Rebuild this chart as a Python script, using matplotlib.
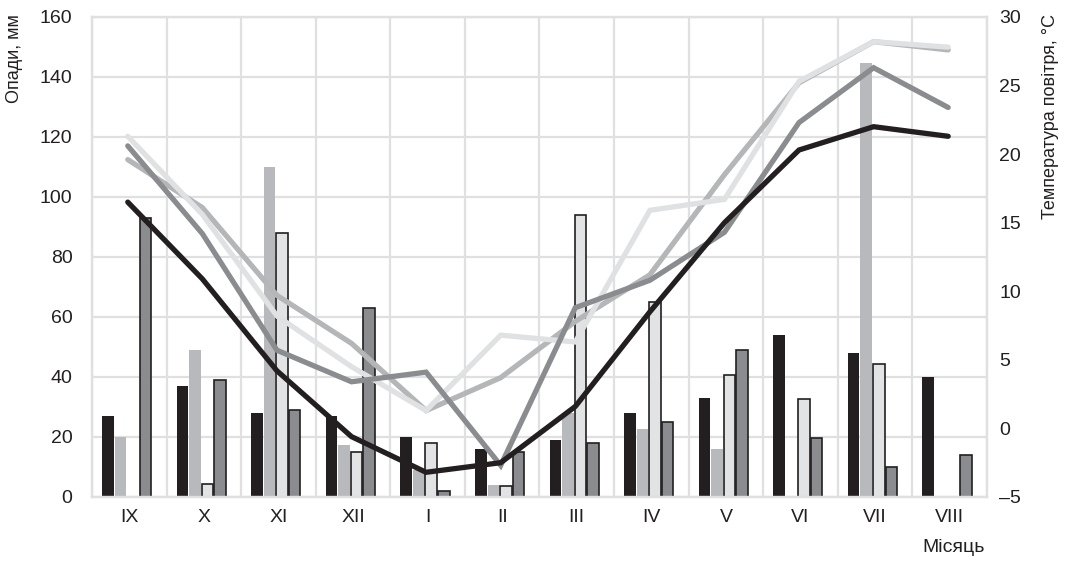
import matplotlib.pyplot as plt
import numpy as np

plt.rcParams['font.family'] = ['Liberation Sans', 'DejaVu Sans']

months = ['IX', 'X', 'XI', 'XII', 'I', 'II', 'III', 'IV', 'V', 'VI', 'VII', 'VIII']

# precipitation, mm (four series)
precip_1 = [27, 37, 28, 27, 20, 16, 19, 28, 33, 54, 48, 40]
precip_2 = [20, 49, 110, 17.3, 9, 4, 28, 22.5, 16, np.nan, 144.5, np.nan]
precip_3 = [0, 4.3, 88, 15, 18, 3.5, 94, 65, 40.5, 32.5, 44.3, np.nan]
precip_4 = [93, 39, 29, 63, 2, 15, 18, 25, 49, 19.7, 10, 14]

# air temperature, °C (four series)
temp_1 = [16.5, 10.9, 4.2, -0.6, -3.2, -2.5, 1.6, 8.5, 15.0, 20.3, 22.0, 21.3]
temp_2 = [20.6, 14.2, 5.7, 3.4, 4.1, -2.7, 8.8, 10.8, 14.3, 22.3, 26.3, 23.4]
temp_3 = [19.6, 16.1, 9.7, 6.2, 1.3, 3.7, 7.8, 11.2, 18.5, 25.2, 28.2, 27.6]
temp_4 = [21.3, 15.6, 8.2, 4.5, 1.3, 6.8, 6.3, 15.9, 16.7, 25.3, 28.2, 27.8]

dark = '#231f20'
grid_c = '#e0e0e0'

fig = plt.figure(figsize=(10.67, 5.62), dpi=100)
ax = fig.add_axes([0.0862, 0.1157, 0.8388, 0.8541])
ax2 = ax.twinx()

x = np.arange(len(months))
w = 0.155
step = 0.168
shift = -0.035

bar_styles = [
    (precip_1, dark, 'none', 0),
    (precip_2, '#b8b9bc', 'none', 0),
    (precip_3, '#e2e3e5', dark, 1.2),
    (precip_4, '#8b8c8f', dark, 1.2),
]
for i, (vals, fc, ec, lw) in enumerate(bar_styles):
    ax.bar(x + (i - 1.5) * step + shift, vals, w, color=fc, edgecolor=ec,
           linewidth=lw, zorder=2)

ax.set_xlim(-0.5, len(months) - 0.5)
ax.set_ylim(0, 160)
ax.set_yticks(np.arange(0, 161, 20))
ax.set_xticks(x)
ax.set_xticklabels(months)

# vertical grid between categories
for b in np.arange(-0.5, len(months), 1):
    ax.axvline(b, color=grid_c, lw=1.6, zorder=0)
ax.yaxis.grid(True, color=grid_c, lw=1.6, zorder=0)
ax.set_axisbelow(True)

line_styles = [
    (temp_3, '#b5b6b8'),
    (temp_4, '#e0e1e3'),
    (temp_2, '#8b8c8f'),
    (temp_1, dark),
]
for vals, c in line_styles:
    ax2.plot(x - 0.02, vals, color=c, lw=3.8, solid_capstyle='round',
             solid_joinstyle='miter', zorder=3)

ax2.set_ylim(-5, 30)
ax2.set_yticks(np.arange(-5, 31, 5))
ax2.set_yticklabels(['\u20135'] + [str(v) for v in range(0, 31, 5)])

for a in (ax, ax2):
    for s in a.spines.values():
        s.set_color(grid_c)
        s.set_linewidth(1.6)
    a.tick_params(length=0, labelsize=14, colors=dark)
ax.tick_params(axis='y', pad=14)
ax.tick_params(axis='x', pad=9)
ax2.tick_params(axis='y', pad=9)

fig.text(0.014, 0.975, 'Опади, мм', rotation=90, ha='center', va='top',
         fontsize=13, color=dark)
fig.text(0.985, 0.975, 'Температура повітря, °С', rotation=90, ha='center',
         va='top', fontsize=13, color=dark)
fig.text(0.923, 0.025, 'Місяць', ha='right', va='center', fontsize=14,
         color=dark)

fig.savefig('out.png', dpi=100)
